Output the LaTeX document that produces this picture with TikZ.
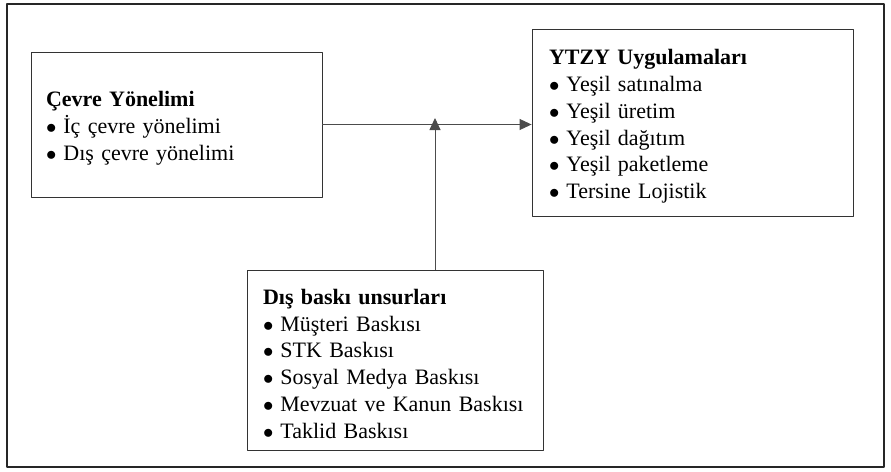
\documentclass[tikz,border=0pt]{standalone}
\usepackage{fontspec}
\setmainfont{Liberation Serif}
\usetikzlibrary{arrows.meta}
\newcommand{\madde}{$\bullet$\hspace{7pt}}
\newcommand{\ust}{\rule{0pt}{23pt}}
\tikzset{
  kutu/.style={draw=black!80, line width=0.9pt, align=left, inner ysep=0pt},
  ok/.style={draw=black!70, line width=0.9pt, -{Triangle[length=12pt,width=11pt]}}
}
\begin{document}
\begin{tikzpicture}[x=1pt, y=-1pt, font=\fontsize{22}{26.8}\selectfont, line cap=round, line join=round]
\useasboundingbox (0,0) rectangle (891,471);
\draw[line width=1.6pt, black!85] (7,4) rectangle (884,467);

% kutular
\node[kutu, minimum width=291pt, minimum height=145pt, inner xsep=15pt, text width=261pt] (cevre) at (176.5,124.5)
  {\ust\textbf{Çevre Yönelimi}\\ \madde İç çevre yönelimi\\ \madde Dış çevre yönelimi};
\node[kutu, minimum width=321pt, minimum height=187pt, inner xsep=17pt, text width=287pt] (ytzy) at (692.5,122.5)
  {\ust\textbf{YTZY Uygulamaları}\\ \madde Yeşil satınalma\\ \madde Yeşil üretim\\ \madde Yeşil dağıtım\\ \madde Yeşil paketleme\\ \madde Tersine Lojistik};
\node[kutu, minimum width=296pt, minimum height=180pt, inner xsep=16pt, text width=264pt] (baski) at (395,360)
  {\ust\textbf{Dış baskı unsurları}\\ \madde Müşteri Baskısı\\ \madde STK Baskısı\\ \madde Sosyal Medya Baskısı\\ \madde Mevzuat ve Kanun Baskısı\\ \madde Taklid Baskısı};

% oklar
\coordinate (uc) at (435,118);
\draw[ok] (cevre.east) -- (cevre.east -| ytzy.west);
\draw[ok] (baski.north -| uc) -- (uc);
\end{tikzpicture}
\end{document}
